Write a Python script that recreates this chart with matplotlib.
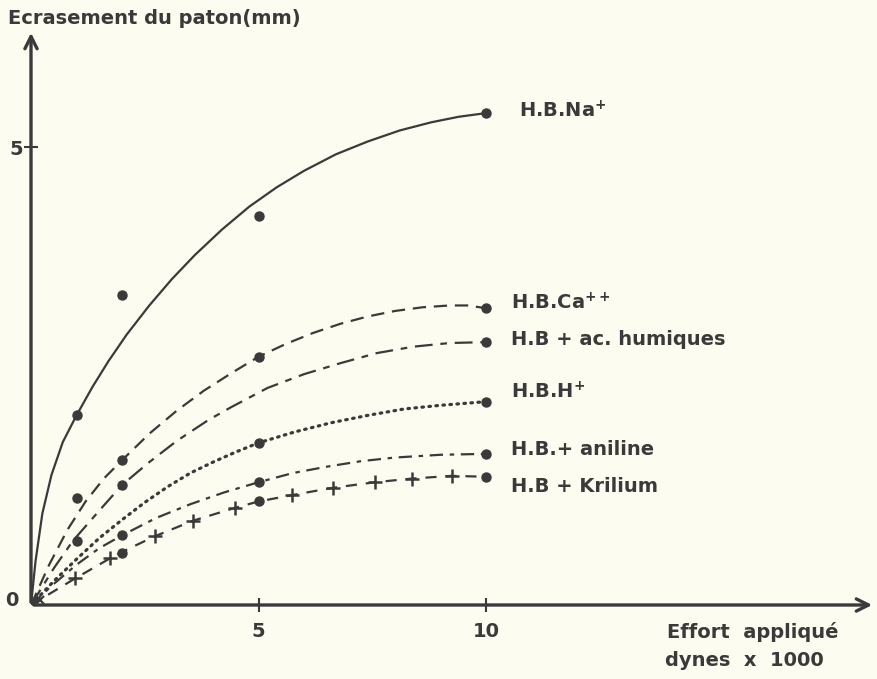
import matplotlib.pyplot as plt

# ------------------------------------------------------------
# Data
# ------------------------------------------------------------

# Measured points (dots)
na_x = [1, 2, 5, 10]
na_y = [2.07, 3.38, 4.25, 5.37]
ca_x = [1, 2, 5, 10]
ca_y = [1.17, 1.58, 2.71, 3.24]
hum_x = [1, 2, 10]
hum_y = [0.70, 1.31, 2.87]
hplus_x = [5, 10]
hplus_y = [1.77, 2.22]
anil_x = [2, 5, 10]
anil_y = [0.76, 1.34, 1.65]
kril_x = [2, 5, 10]
kril_y = [0.57, 1.14, 1.40]

# Hand-drawn fitted curves
na_cx = [0, 0.1, 0.25, 0.45, 0.7, 1.0, 1.35, 1.7, 2.1, 2.6, 3.1, 3.6, 4.2,
         4.8, 5.4, 6.0, 6.7, 7.4, 8.1, 8.8, 9.4, 10]
na_cy = [0, 0.48, 1.00, 1.42, 1.78, 2.07, 2.38, 2.66, 2.95, 3.27, 3.56, 3.82,
         4.10, 4.35, 4.56, 4.74, 4.92, 5.06, 5.18, 5.27, 5.33, 5.37]
ca_cx = [0, 0.4, 0.8, 1.2, 1.6, 2.0, 2.6, 3.2, 3.8, 4.4, 5.0, 5.6, 6.2, 6.8,
         7.4, 8.0, 8.6, 9.2, 9.6, 10]
ca_cy = [0, 0.44, 0.82, 1.13, 1.38, 1.58, 1.87, 2.12, 2.34, 2.53, 2.71, 2.85,
         2.97, 3.07, 3.15, 3.21, 3.25, 3.27, 3.27, 3.24]
hum_cx = [0, 0.5, 0.92, 1.5, 2, 2.6, 3.2, 3.9, 4.4, 5.2, 6.0, 6.8, 7.6, 8.4,
          9.2, 10]
hum_cy = [0, 0.40, 0.70, 1.03, 1.31, 1.56, 1.79, 2.02, 2.16, 2.37, 2.52, 2.64,
          2.75, 2.82, 2.86, 2.87]
hplus_cx = [0, 0.5, 1.0, 1.5, 2.0, 2.5, 3.0, 3.5, 4.0, 4.5, 5.0, 5.8, 6.6,
            7.4, 8.2, 9.0, 10]
hplus_cy = [0, 0.26, 0.50, 0.73, 0.93, 1.12, 1.29, 1.44, 1.56, 1.67, 1.77,
            1.89, 1.99, 2.07, 2.14, 2.18, 2.22]
anil_cx = [0, 0.5, 1.0, 1.5, 2.0, 2.75, 3.5, 4.25, 5.0, 5.75, 6.5, 7.25, 8.0,
           9.0, 10]
anil_cy = [0, 0.23, 0.44, 0.62, 0.76, 0.95, 1.10, 1.23, 1.34, 1.44, 1.51,
           1.57, 1.61, 1.64, 1.65]
kril_cx = [0, 0.97, 1.74, 1.96, 2.72, 3.56, 4.48, 5, 5.74, 6.64, 7.56, 8.37,
           9.25, 10]
kril_cy = [0, 0.29, 0.51, 0.57, 0.75, 0.92, 1.06, 1.13, 1.20, 1.28, 1.34,
           1.38, 1.41, 1.40]

# Crosses drawn along the Krilium curve
cross_x = [0.97, 1.74, 2.72, 3.56, 4.48, 5.74, 6.64, 7.56, 8.37, 9.25]
cross_y = [0.29, 0.51, 0.75, 0.92, 1.06, 1.20, 1.28, 1.34, 1.38, 1.41]

labels = ["H.B.Na$^{+}$", "H.B.Ca$^{++}$", "H.B + ac. humiques",
          "H.B.H$^{+}$", "H.B.+ aniline", "H.B + Krilium"]
label_y = [5.40, 3.30, 2.90, 2.33, 1.70, 1.29]

# ------------------------------------------------------------
# Figure
# ------------------------------------------------------------

INK = "#3a3a3a"
PAPER = "#fcfcf1"
FS = 14

plt.rcParams["font.family"] = ["DejaVu Sans"]
plt.rcParams["font.weight"] = "bold"
plt.rcParams["mathtext.default"] = "bf"

fig = plt.figure(figsize=(8.77, 6.79), dpi=100, facecolor=PAPER)
ax = fig.add_axes([31 / 877, 74 / 679, 844 / 877, 575 / 679])
ax.set_xlim(0, 844 / 45.5)
ax.set_ylim(0, 575 / 91.6)
ax.patch.set_alpha(0)

for s in ax.spines.values():
    s.set_visible(False)

# Axes with arrow heads
arrow = dict(arrowstyle="->", color=INK, lw=2.4, mutation_scale=22)
ax.annotate("", xy=(1.0, 0), xytext=(0, 0), xycoords="axes fraction",
            arrowprops=arrow)
ax.annotate("", xy=(0, 1.0), xytext=(0, 0), xycoords="axes fraction",
            arrowprops=arrow)

ax.set_xticks([5, 10])
ax.set_xticklabels(["5", "10"])
ax.set_yticks([5])
ax.set_yticklabels(["5"])
ax.tick_params(direction="inout", length=10, width=1.5, color=INK,
               labelcolor=INK, labelsize=FS, pad=7)
ax.tick_params(axis="y", pad=1)

lw = 1.6
mk = dict(marker="o", ms=6.5, color=INK, linestyle="none", zorder=4)

ax.plot(na_cx, na_cy, color=INK, lw=lw, solid_capstyle="round")
ax.plot(na_x, na_y, **mk)

ax.plot(ca_cx, ca_cy, color=INK, lw=lw, linestyle=(0, (6, 3.5)))
ax.plot(ca_x, ca_y, **mk)

ax.plot(hum_cx, hum_cy, color=INK, lw=lw, linestyle=(0, (8, 3.5, 3, 3.5)))
ax.plot(hum_x, hum_y, **mk)

ax.plot(hplus_cx, hplus_cy, color=INK, lw=2.3, linestyle=(0, (0.5, 1.7)),
        dash_capstyle="round")
ax.plot(hplus_x, hplus_y, **mk)

ax.plot(anil_cx, anil_cy, color=INK, lw=lw, linestyle=(0, (6, 3, 2, 3)))
ax.plot(anil_x, anil_y, **mk)

ax.plot(kril_cx, kril_cy, color=INK, lw=lw, linestyle=(0, (5, 4)))
ax.plot(kril_x, kril_y, **mk)
ax.plot(cross_x, cross_y, marker="+", ms=10, mew=1.8, color=INK,
        linestyle="none", zorder=4)
ax.plot([0.2], [0.06], marker="x", ms=6, mew=1.6, color=INK,
        linestyle="none", zorder=4)

# Curve labels
for i, (txt, yy) in enumerate(zip(labels, label_y)):
    xx = 10.72 if i == 0 else 10.55
    ax.text(xx, yy, txt, ha="left", va="center", fontsize=FS, color=INK)

# Axis titles and origin
fig.text(8 / 877, 1 - 18 / 679, "Ecrasement du paton(mm)", ha="left",
         va="center", fontsize=FS, color=INK)
fig.text(12 / 877, 1 - 600 / 679, "0", ha="center", va="center",
         fontsize=FS, color=INK)
fig.text(753 / 877, 1 - 632 / 679, "Effort  appliqué", ha="center",
         va="center", fontsize=FS, color=INK)
fig.text(744 / 877, 1 - 661 / 679, "dynes  x  1000", ha="center",
         va="center", fontsize=FS, color=INK)

fig.savefig("out.png", dpi=100, facecolor=PAPER)
